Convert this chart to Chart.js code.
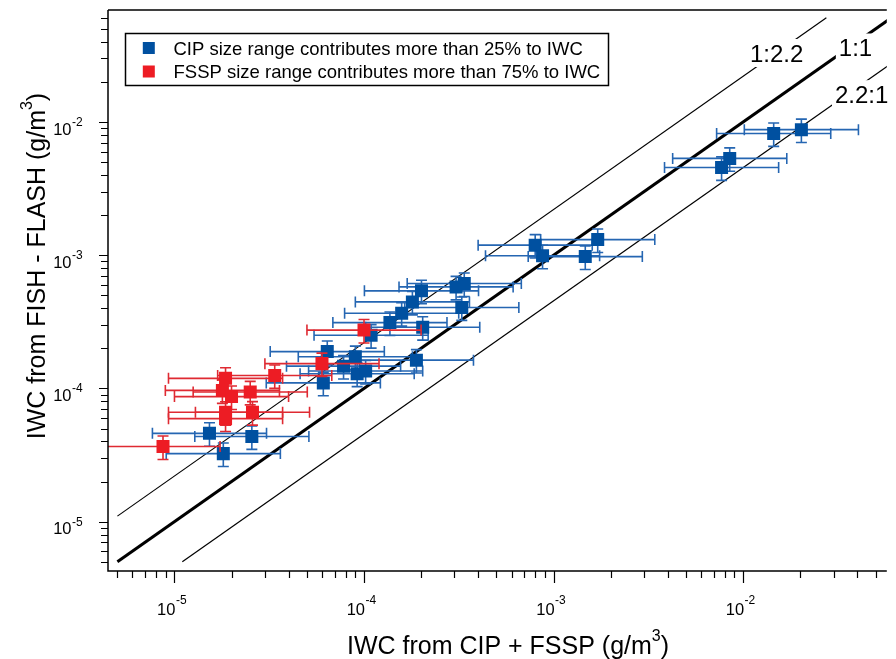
<!DOCTYPE html>
<html>
<head>
<meta charset="utf-8">
<script src="https://cdn.jsdelivr.net/npm/chart.js@4.4.1/dist/chart.umd.min.js"></script>
<style>
  html, body { margin: 0; padding: 0; background: #fff; overflow: hidden; }
  #wrap { width: 896px; height: 659px; }
</style>
</head>
<body>
<div id="wrap"><canvas id="chart" width="896" height="659"></canvas></div>
<script>
'use strict';

// samples where CIP size range contributes > 25% (blue)
const cipX = [0.0203, 0.0145, 0.0085, 0.0077, 0.00171, 0.00080, 0.000875, 0.00147,
  0.000338, 0.000306, 0.000201, 0.000180, 0.000328, 0.000158, 0.000137, 0.000204,
  0.000109, 6.4e-5, 9.0e-5, 7.8e-5, 9.2e-5, 1.02e-4, 0.000189, 6.1e-5,
  1.53e-5, 2.56e-5, 1.81e-5];
const cipY = [0.00876, 0.0082, 0.00533, 0.00456, 0.00131, 0.00119, 0.00099, 0.000976,
  0.000613, 0.000578, 0.00054, 0.000446, 0.000405, 0.000367, 0.000312, 0.000288,
  0.000251, 0.000189, 0.000173, 0.000147, 0.000129, 0.000135, 0.000163, 0.000110,
  4.6e-5, 4.36e-5, 3.24e-5];

// samples where FSSP size range contributes > 75% (red)
const fsspX = [8.7e-6, 1.86e-5, 3.38e-5, 1.79e-5, 2.0e-5, 2.51e-5, 1.86e-5, 1.86e-5,
  2.58e-5, 6.0e-5, 1.0e-4];
const fsspY = [3.66e-5, 1.19e-4, 1.25e-4, 9.66e-5, 8.68e-5, 9.41e-5, 6.62e-5, 5.93e-5,
  6.63e-5, 1.535e-4, 2.74e-4];

// uncertainties: x is a multiplicative factor, y a relative fraction
const xErrFactor = 2;
const yErrFrac = 0.2;

// reference lines y = ratio * x
const ratioNames = ['1:2.2', '1:1', '2.2:1'];
const ratioValues = [2.2, 1, 1 / 2.2];
const ratioXStart = [5e-6, 5e-6, 1.1e-5];
const ratioXEnd = [0.0275, 0.1, 0.2];
const ratioWidths = [1.2, 3, 1.2];

const majorTicks = [1e-5, 1e-4, 1e-3, 1e-2];
const majorExps = ['-5', '-4', '-3', '-2'];
const legendLabels = ['CIP size range contributes more than 25% to IWC',
  'FSSP size range contributes more than 75% to IWC'];

const BLUE = '#0050a0', BLUE_ERR = '#2566b2';
const RED = '#ed1c24', RED_ERR = '#df2a32';
const FONT = '"Liberation Sans", Arial, sans-serif';

const toPoints = (xs, ys) => xs.map((v, i) => ({x: v, y: ys[i]}));

const errorBars = {
  id: 'errorBars',
  beforeDatasetDraw(chart, args) {
    const ds = chart.data.datasets[args.index];
    if (!ds.errColor) return;
    const {ctx, chartArea: a, scales: {x, y}} = chart;
    const cap = 5.5;
    ctx.save();
    ctx.beginPath();
    ctx.rect(a.left, a.top, a.right - a.left, a.bottom - a.top);
    ctx.clip();
    ctx.strokeStyle = ds.errColor;
    ctx.lineWidth = 1.6;
    ds.data.forEach(p => {
      const px = x.getPixelForValue(p.x), py = y.getPixelForValue(p.y);
      const x0 = x.getPixelForValue(p.x / xErrFactor), x1 = x.getPixelForValue(p.x * xErrFactor);
      const y0 = y.getPixelForValue(p.y * (1 - yErrFrac)), y1 = y.getPixelForValue(p.y * (1 + yErrFrac));
      ctx.beginPath();
      ctx.moveTo(x0, py); ctx.lineTo(x1, py);
      ctx.moveTo(x0, py - cap); ctx.lineTo(x0, py + cap);
      ctx.moveTo(x1, py - cap); ctx.lineTo(x1, py + cap);
      ctx.moveTo(px, y0); ctx.lineTo(px, y1);
      ctx.moveTo(px - cap, y0); ctx.lineTo(px + cap, y0);
      ctx.moveTo(px - cap, y1); ctx.lineTo(px + cap, y1);
      ctx.stroke();
    });
    ctx.restore();
  }
};

const decorations = {
  id: 'decorations',
  afterDraw(chart) {
    const {ctx, chartArea: a, scales: {x, y}} = chart;
    ctx.save();
    ctx.fillStyle = '#000';
    ctx.strokeStyle = '#000';

    // line labels on white patches
    const lbl = [[776.7, 53], [855.5, 47.5], [861.7, 94.2]];
    ctx.font = '24px ' + FONT;
    ctx.textAlign = 'center';
    ctx.textBaseline = 'alphabetic';
    ratioNames.forEach((t, i) => {
      const w = ctx.measureText(t).width;
      ctx.fillStyle = '#fff';
      ctx.fillRect(lbl[i][0] - w / 2 - 3, lbl[i][1] - 14, w + 6, 28);
      ctx.fillStyle = '#000';
      ctx.fillText(t, lbl[i][0], lbl[i][1] + 8.6);
    });

    // frame
    ctx.lineWidth = 1.5;
    ctx.beginPath();
    ctx.moveTo(a.left, a.top); ctx.lineTo(a.right, a.top);
    ctx.moveTo(a.left, a.top); ctx.lineTo(a.left, a.bottom);
    ctx.lineTo(a.right, a.bottom);
    ctx.stroke();

    // ticks
    ctx.lineWidth = 1.2;
    ctx.beginPath();
    for (let e = -6; e <= -1; e++) {
      for (let k = 1; k <= 9; k++) {
        const v = k * Math.pow(10, e);
        if (v >= x.min && v <= x.max) {
          const px = Math.round(x.getPixelForValue(v)) + 0.5;
          ctx.moveTo(px, a.bottom); ctx.lineTo(px, a.bottom + (k === 1 ? 12 : 7));
        }
        if (v >= y.min && v <= y.max) {
          const py = Math.round(y.getPixelForValue(v)) + 0.5;
          ctx.moveTo(a.left, py); ctx.lineTo(a.left - (k === 1 ? 9 : 7), py);
        }
      }
    }
    ctx.stroke();

    // tick labels
    ctx.textBaseline = 'alphabetic';
    majorTicks.forEach((v, i) => {
      const px = x.getPixelForValue(v);
      ctx.font = '16.5px ' + FONT;
      ctx.textAlign = 'right';
      ctx.fillText('10', px + 1, 615);
      ctx.font = '12px ' + FONT;
      ctx.textAlign = 'left';
      ctx.fillText(majorExps[i], px + 1.5, 604);

      const py = y.getPixelForValue(v);
      ctx.font = '16.5px ' + FONT;
      ctx.textAlign = 'right';
      ctx.fillText('10', a.left - 36.5, py + 12.7);
      ctx.font = '12px ' + FONT;
      ctx.textAlign = 'left';
      ctx.fillText(majorExps[i], a.left - 36, py + 4);
    });

    // axis titles with superscript 3
    const titled = (partA, cx, cy, rot) => {
      ctx.save();
      ctx.translate(cx, cy);
      ctx.rotate(rot);
      ctx.textAlign = 'left';
      ctx.font = '25px ' + FONT;
      const wA = ctx.measureText(partA).width;
      const wB = ctx.measureText(')').width;
      ctx.font = '16px ' + FONT;
      const wS = ctx.measureText('3').width;
      const s = -(wA + wS + wB) / 2;
      ctx.font = '25px ' + FONT;
      ctx.fillText(partA, s, 0);
      ctx.font = '16px ' + FONT;
      ctx.fillText('3', s + wA, -13);
      ctx.font = '25px ' + FONT;
      ctx.fillText(')', s + wA + wS, 0);
      ctx.restore();
    };
    titled('IWC from CIP + FSSP (g/m', 508, 654, 0);
    titled('IWC from FISH - FLASH (g/m', 45, 266, -Math.PI / 2);

    // legend
    ctx.fillStyle = '#fff';
    ctx.fillRect(125.5, 33.5, 483, 52);
    ctx.lineWidth = 1.5;
    ctx.strokeRect(125.5, 33.5, 483, 52);
    const rows = [[BLUE, 48], [RED, 71.5]];
    ctx.font = '18.5px ' + FONT;
    ctx.textAlign = 'left';
    rows.forEach((r, i) => {
      ctx.fillStyle = r[0];
      ctx.fillRect(142.8, r[1] - 6, 12, 12);
      ctx.fillStyle = '#000';
      ctx.fillText(legendLabels[i], 173.5, r[1] + 6.5);
    });
    ctx.restore();
  }
};

const lineSets = ratioNames.map((n, i) => ({
  label: n,
  data: [
    {x: ratioXStart[i], y: ratioXStart[i] * ratioValues[i]},
    {x: ratioXEnd[i], y: ratioXEnd[i] * ratioValues[i]}
  ],
  showLine: true,
  borderColor: '#000',
  borderWidth: ratioWidths[i],
  pointRadius: 0,
  clip: 0,
  order: 2
}));

new Chart(document.getElementById('chart'), {
  type: 'scatter',
  data: {
    datasets: [
      {
        label: legendLabels[1],
        data: toPoints(fsspX, fsspY),
        pointStyle: 'rect',
        pointRadius: 9.2,
        pointBorderWidth: 0,
        backgroundColor: RED,
        errColor: RED_ERR,
        order: 0
      },
      {
        label: legendLabels[0],
        data: toPoints(cipX, cipY),
        pointStyle: 'rect',
        pointRadius: 9.2,
        pointBorderWidth: 0,
        backgroundColor: BLUE,
        errColor: BLUE_ERR,
        order: 1
      },
      ...lineSets
    ]
  },
  options: {
    responsive: false,
    animation: false,
    devicePixelRatio: 1,
    events: [],
    layout: {padding: {left: 108, top: 10, right: 0, bottom: 88}},
    plugins: {legend: {display: false}, tooltip: {enabled: false}},
    scales: {
      x: {type: 'logarithmic', display: false, min: 4.46e-6, max: 0.0573},
      y: {type: 'logarithmic', display: false, min: 4.26e-6, max: 0.0693}
    }
  },
  plugins: [errorBars, decorations]
});
</script>
</body>
</html>
